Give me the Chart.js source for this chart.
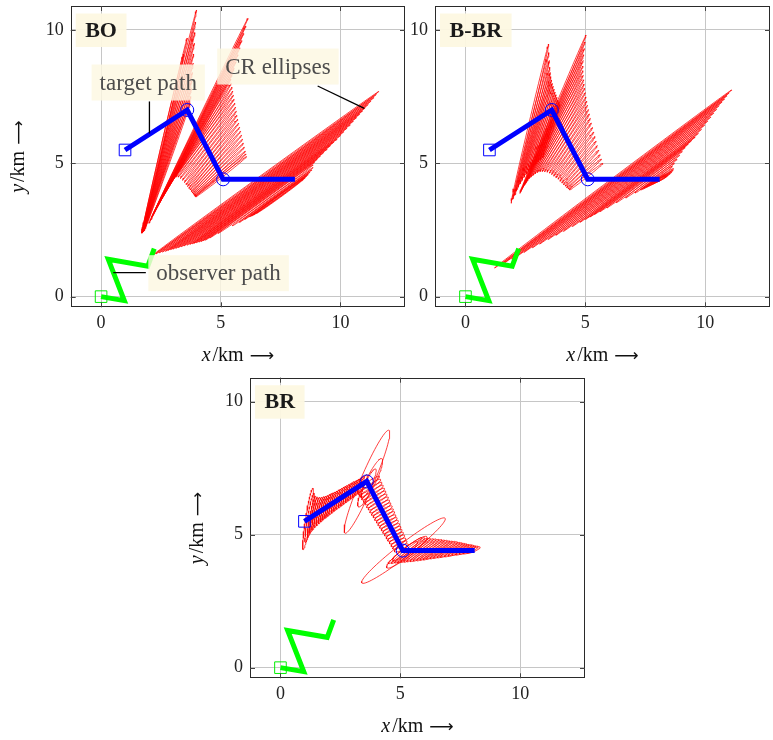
<!DOCTYPE html>
<html>
<head>
<meta charset="utf-8">
<script src="https://cdn.jsdelivr.net/npm/chart.js@4.4.1/dist/chart.umd.min.js"></script>
<style>
  html, body { margin: 0; padding: 0; background: #ffffff; }
  body { width: 773px; height: 740px; position: relative; overflow: hidden; }
  canvas { position: absolute; }
</style>
</head>
<body>
<canvas id="c1" width="410" height="370" style="left:0px;top:0px"></canvas>
<canvas id="c2" width="368" height="370" style="left:405px;top:0px"></canvas>
<canvas id="c3" width="420" height="370" style="left:180px;top:370px"></canvas>
<script>
// ---------------- data (km) ----------------
const xTicks = [0, 5, 10];
const yTicks = [0, 5, 10];
const panelNames = ['BO', 'B-BR', 'BR'];

// target path: start, two manoeuvre points, end
const targetX = [1.0, 3.6, 5.1, 8.1];
const targetY = [5.5, 7.0, 4.4, 4.4];
// observer path
const observerX = [0.0, 0.97, 0.3, 1.95, 2.22];
const observerY = [0.0, -0.15, 1.4, 1.14, 1.8];

// BO: CR ellipses given by the two tips of the major axis [x1, y1, x2, y2]
const boLeg1 = [
  [1.70,2.38,3.99,10.75],[1.70,2.38,3.60,9.70],[1.70,2.38,3.45,9.10],[1.71,2.39,3.95,10.30],
  [1.72,2.40,3.92,9.90],[1.73,2.41,3.90,9.50],[1.74,2.42,3.87,9.10],[1.75,2.43,3.85,8.75],
  [1.76,2.44,3.82,8.40],[1.77,2.45,3.80,8.10],[1.78,2.46,3.78,7.80],[1.79,2.47,3.75,7.50],
  [1.80,2.48,3.72,7.25]
];
const boLeg2 = [
  [2.00,2.75,6.14,10.44],[2.05,2.85,6.05,10.15],[2.10,2.95,5.96,9.87],[2.16,3.06,5.88,9.60],
  [2.23,3.18,5.80,9.33],[2.30,3.30,5.72,9.07],[2.38,3.43,5.64,8.81],[2.46,3.56,5.56,8.56],
  [2.55,3.70,5.48,8.33],[2.64,3.85,5.42,8.15],[2.73,4.00,5.44,8.00],[2.82,4.15,5.47,7.85],
  [2.92,4.30,5.50,7.70],[3.02,4.42,5.53,7.55],[3.12,4.48,5.56,7.40],[3.22,4.48,5.59,7.25],
  [3.31,4.43,5.62,7.10],[3.40,4.36,5.65,6.95],[3.48,4.28,5.68,6.80],[3.55,4.20,5.71,6.65],
  [3.61,4.13,5.75,6.50],[3.67,4.06,5.79,6.35],[3.72,4.00,5.83,6.20],[3.77,3.94,5.87,6.05],
  [3.81,3.89,5.91,5.90],[3.85,3.85,5.95,5.75],[3.88,3.81,5.99,5.60],[3.91,3.78,6.03,5.45],
  [3.93,3.76,6.06,5.35],[3.95,3.74,6.08,5.25]
];
const boLeg3 = [
  [2.18,1.57,11.60,7.69],[2.29,1.60,11.50,7.58],[2.43,1.64,11.40,7.46],[2.56,1.67,11.28,7.33],
  [2.69,1.70,11.16,7.20],[2.79,1.73,11.04,7.08],[2.90,1.76,10.92,6.96],[3.00,1.78,10.80,6.84],
  [3.12,1.81,10.67,6.71],[3.23,1.84,10.54,6.58],[3.35,1.87,10.41,6.45],[3.46,1.90,10.28,6.32],
  [3.59,1.93,10.14,6.18],[3.71,1.96,10.00,6.04],[3.81,1.98,9.86,5.91],[3.88,2.00,9.72,5.79],
  [3.98,2.02,9.58,5.66],[4.08,2.05,9.44,5.53],[4.18,2.07,9.30,5.40],[4.27,2.10,9.16,5.27],
  [4.36,2.12,9.03,5.15],[4.54,2.20,8.92,5.04],[4.89,2.37,8.86,4.94],[5.48,2.65,8.86,4.84],
  [5.78,2.79,8.80,4.75],[6.00,2.90,8.72,4.66],[6.20,2.99,8.65,4.58],[6.29,3.03,8.58,4.52],
  [6.37,3.07,8.51,4.46],[6.50,3.13,8.45,4.40]
];

// B-BR: tips [x1, y1, x2, y2]
const bbrLeg1 = [
  [1.90,3.50,3.47,9.47],[1.97,3.65,3.48,9.15],[2.05,3.80,3.50,8.85],[2.12,3.95,3.52,8.60],
  [2.20,4.10,3.54,8.40],[2.28,4.23,3.56,8.25],[2.36,4.36,3.59,8.12],[2.45,4.48,3.62,8.00],
  [2.54,4.59,3.66,7.89],[2.63,4.69,3.70,7.78],[2.72,4.78,3.74,7.67],[2.82,4.87,3.78,7.57],
  [2.92,4.96,3.82,7.47],[3.02,5.05,3.86,7.37],[3.12,5.13,3.90,7.28],[3.22,5.21,3.94,7.20]
];
const bbrLeg2 = [
  [2.27,3.88,5.03,9.81],[2.31,3.95,4.99,9.55],[2.36,4.03,4.96,9.30],[2.41,4.11,4.93,9.07],
  [2.46,4.19,4.91,8.85],[2.52,4.27,4.90,8.65],[2.58,4.35,4.90,8.47],[2.65,4.42,4.91,8.30],
  [2.73,4.49,4.93,8.13],[2.82,4.55,4.95,7.97],[2.91,4.61,4.97,7.81],[3.00,4.65,5.00,7.65],
  [3.10,4.68,5.03,7.49],[3.20,4.69,5.06,7.33],[3.30,4.69,5.09,7.17],[3.40,4.67,5.13,7.01],
  [3.50,4.63,5.17,6.85],[3.59,4.58,5.21,6.68],[3.68,4.52,5.25,6.51],[3.77,4.46,5.30,6.34],
  [3.86,4.40,5.35,6.17],[3.94,4.33,5.40,6.00],[4.02,4.26,5.45,5.83],[4.09,4.20,5.50,5.66],
  [4.16,4.14,5.56,5.49],[4.22,4.09,5.62,5.32],[4.28,4.04,5.67,5.16],[4.33,4.00,5.73,5.00]
];
const bbrLeg3 = [
  [1.21,1.07,11.10,7.75],[1.43,1.17,11.00,7.64],[1.65,1.28,10.90,7.53],[1.92,1.41,10.80,7.41],
  [2.16,1.52,10.69,7.29],[2.44,1.66,10.58,7.16],[2.79,1.83,10.47,7.02],[3.09,1.97,10.35,6.88],
  [3.44,2.14,10.23,6.73],[3.77,2.30,10.10,6.58],[4.09,2.45,9.97,6.43],[4.46,2.63,9.84,6.27],
  [4.78,2.79,9.71,6.12],[5.01,2.90,9.57,5.98],[5.20,2.99,9.43,5.85],[5.38,3.08,9.29,5.72],
  [5.60,3.18,9.16,5.59],[5.90,3.33,9.04,5.45],[6.29,3.52,8.93,5.30],[6.68,3.70,8.82,5.15],
  [7.07,3.89,8.71,5.00],[7.38,4.04,8.62,4.88],[7.30,4.00,8.68,4.80],[7.45,4.07,8.66,4.74],
  [7.55,4.12,8.60,4.68],[7.65,4.17,8.53,4.62],[7.75,4.22,8.45,4.56],[7.85,4.27,8.38,4.52]
];

// BR: ellipses [cx, cy, semi-major, semi-minor, angle deg]
const brLeg1 = [
  [1.15,5.59,1.17,0.10,80],[1.22,5.63,0.95,0.09,79],[1.30,5.67,0.80,0.08,78],[1.39,5.73,0.70,0.08,77],
  [1.48,5.78,0.64,0.08,76],[1.57,5.83,0.60,0.08,75],[1.66,5.88,0.57,0.08,74],[1.75,5.93,0.54,0.08,74],
  [1.84,5.98,0.52,0.08,73],[1.93,6.04,0.51,0.08,72],[2.02,6.09,0.50,0.08,72],[2.11,6.14,0.49,0.08,71],
  [2.20,6.19,0.48,0.08,70],[2.30,6.25,0.47,0.08,70],[2.40,6.31,0.46,0.08,69],[2.50,6.37,0.46,0.08,68],
  [2.60,6.42,0.45,0.08,68],[2.70,6.48,0.44,0.08,67],[2.80,6.54,0.44,0.08,66],[2.90,6.60,0.43,0.08,66],
  [3.00,6.65,0.42,0.08,65],[3.10,6.71,0.42,0.08,64],[3.20,6.77,0.41,0.08,64],[3.30,6.83,0.40,0.08,63],
  [3.42,6.90,0.40,0.08,62]
];
const brTurn1 = [[3.61,6.99,2.14,0.28,64.6],[3.74,6.95,1.03,0.20,61.6],[3.68,6.92,0.62,0.13,62]];
const brLeg2 = [
  [3.66,6.90,0.55,0.08,32],[3.72,6.79,0.54,0.08,32],[3.78,6.69,0.53,0.08,31],[3.84,6.58,0.52,0.08,31],
  [3.90,6.48,0.51,0.08,30],[3.96,6.38,0.50,0.08,30],[4.02,6.27,0.49,0.08,30],[4.08,6.17,0.48,0.08,29],
  [4.14,6.06,0.47,0.08,29],[4.20,5.96,0.46,0.08,29],[4.26,5.86,0.45,0.08,28],[4.32,5.75,0.44,0.08,28],
  [4.38,5.65,0.43,0.08,28],[4.44,5.54,0.42,0.08,27],[4.50,5.44,0.41,0.08,27],[4.56,5.34,0.40,0.08,27],
  [4.62,5.23,0.39,0.08,26],[4.68,5.13,0.38,0.08,26],[4.74,5.02,0.37,0.08,26],[4.80,4.92,0.36,0.08,25],
  [4.86,4.82,0.35,0.08,25],[4.92,4.71,0.34,0.08,25],[4.98,4.61,0.33,0.08,25],[5.04,4.50,0.32,0.08,25]
];
const brTurn2 = [[5.13,4.40,2.12,0.26,34.9],[5.27,4.34,1.02,0.18,34.6],[5.20,4.38,0.62,0.12,34]];
const brLeg3 = [
  [5.20,4.40,0.85,0.08,35],[5.32,4.40,0.84,0.08,35],[5.45,4.40,0.83,0.08,34],[5.57,4.40,0.82,0.08,34],
  [5.70,4.40,0.81,0.08,33],[5.82,4.40,0.80,0.08,33],[5.94,4.40,0.79,0.08,32],[6.07,4.40,0.78,0.08,32],
  [6.19,4.40,0.76,0.08,31],[6.32,4.40,0.74,0.08,31],[6.44,4.40,0.72,0.08,30],[6.56,4.40,0.70,0.08,30],
  [6.69,4.41,0.68,0.08,29],[6.81,4.41,0.65,0.08,29],[6.94,4.41,0.62,0.08,28],[7.06,4.41,0.59,0.08,28],
  [7.18,4.41,0.56,0.08,27],[7.31,4.41,0.52,0.08,27],[7.43,4.41,0.48,0.08,26],[7.56,4.42,0.45,0.08,25],
  [7.68,4.42,0.41,0.08,25],[7.80,4.42,0.37,0.07,24],[7.93,4.42,0.34,0.07,23],[8.05,4.42,0.30,0.06,22]
];
const needleHalfWidth = 0.04;

// BO annotations (data units)
const noteTexts = ['target path', 'CR ellipses', 'observer path'];
const noteX = [1.97, 7.39, 4.91];
const noteY = [8.03, 8.63, 0.88];
const notePointers = [[2.02,7.32,2.02,6.12],[9.05,7.90,11.0,7.06],[0.51,0.90,1.87,0.90]];

// ---------------- helpers ----------------
function fromTips(t, b) {
  const [x1, y1, x2, y2] = t;
  return [(x1 + x2) / 2, (y1 + y2) / 2, Math.hypot(x2 - x1, y2 - y1) / 2, b,
          Math.atan2(y2 - y1, x2 - x1) * 180 / Math.PI];
}
function ellipsePoints(e) {
  const [cx, cy, a, b, deg] = e;
  const th = deg * Math.PI / 180, c = Math.cos(th), s = Math.sin(th);
  const pts = [];
  const n = 72;
  for (let i = 0; i <= n; i++) {
    const t = i / n * 2 * Math.PI;
    const u = a * Math.cos(t), v = b * Math.sin(t);
    pts.push({ x: cx + u * c - v * s, y: cy + u * s + v * c });
  }
  return pts;
}
function ellipseSets(list) {
  return list.map(e => ({
    data: ellipsePoints(e), showLine: true, borderColor: '#ff0000', borderWidth: 0.75,
    pointRadius: 0, pointHoverRadius: 0, fill: false, tension: 0, order: 5
  }));
}
function pathSets() {
  const tgt = targetX.map((x, i) => ({ x, y: targetY[i] }));
  const obs = observerX.map((x, i) => ({ x, y: observerY[i] }));
  return [
    { data: [tgt[0]], pointStyle: 'rect', pointRadius: 8.2, borderColor: '#0000ff', borderWidth: 1,
      backgroundColor: 'rgba(0,0,0,0)', showLine: false, order: 0 },
    { data: [tgt[1], tgt[2]], pointStyle: 'circle', pointRadius: 6.5, borderColor: '#0000ff', borderWidth: 1,
      backgroundColor: 'rgba(0,0,0,0)', showLine: false, order: 0 },
    { data: [obs[0]], pointStyle: 'rect', pointRadius: 8.2, borderColor: '#00ee00', borderWidth: 1,
      backgroundColor: 'rgba(0,0,0,0)', showLine: false, order: 0 },
    { data: tgt, showLine: true, borderColor: '#0000ff', borderWidth: 5, pointRadius: 0, tension: 0, order: 1 },
    { data: obs, showLine: true, borderColor: '#00ff00', borderWidth: 5, pointRadius: 0, tension: 0, order: 2 }
  ];
}

const SERIF = '"Liberation Serif", "Times New Roman", serif';

function drawAxisTitle(ctx, cx, cy, rotate, letter) {
  ctx.save();
  ctx.translate(cx, cy);
  if (rotate) ctx.rotate(-Math.PI / 2);
  ctx.fillStyle = '#111';
  ctx.textBaseline = 'middle';
  ctx.textAlign = 'left';
  const fLetter = 'italic 20px ' + SERIF, fUnit = '20px ' + SERIF, fArrow = '17px "DejaVu Sans"';
  const unit = '/km', arrow = '\u27F6';
  ctx.font = fLetter; const w1 = ctx.measureText(letter).width + 2;
  ctx.font = fUnit; const w2 = ctx.measureText(unit).width + 6;
  ctx.font = fArrow; const w3 = ctx.measureText(arrow).width;
  const x0 = -(w1 + w2 + w3) / 2;
  ctx.font = fLetter; ctx.fillText(letter, x0, 0);
  ctx.font = fUnit; ctx.fillText(unit, x0 + w1, 0);
  ctx.font = fArrow; ctx.fillText(arrow, x0 + w1 + w2, 1);
  ctx.restore();
}

function overlay(cfg) {
  return {
    id: 'overlay' + cfg.name,
    afterDatasetsDraw(chart) {
      const { ctx, chartArea: a, scales: { x, y } } = chart;
      ctx.save();
      // annotations
      if (cfg.notes) {
        ctx.font = '23px ' + SERIF;
        noteTexts.forEach((t, i) => {
          const px = x.getPixelForValue(noteX[i]), py = y.getPixelForValue(noteY[i]);
          const w = ctx.measureText(t).width + 16, h = 36;
          ctx.fillStyle = 'rgba(253,248,226,0.82)';
          ctx.fillRect(px - w / 2, py - h / 2, w, h);
          ctx.fillStyle = '#4d4d4d';
          ctx.textAlign = 'center'; ctx.textBaseline = 'middle';
          ctx.fillText(t, px, py + 1);
        });
        ctx.strokeStyle = '#000'; ctx.lineWidth = 1.3;
        notePointers.forEach(p => {
          ctx.beginPath();
          ctx.moveTo(x.getPixelForValue(p[0]), y.getPixelForValue(p[1]));
          ctx.lineTo(x.getPixelForValue(p[2]), y.getPixelForValue(p[3]));
          ctx.stroke();
        });
      }
      // panel label
      ctx.font = 'bold 22px ' + SERIF;
      const lw = ctx.measureText(cfg.name).width + 19;
      ctx.fillStyle = 'rgba(253,248,226,0.95)';
      ctx.fillRect(a.left + 5, a.top + 7.5, lw, 33.5);
      ctx.fillStyle = '#1a1a1a';
      ctx.textAlign = 'left'; ctx.textBaseline = 'middle';
      ctx.fillText(cfg.name, a.left + 5 + 9.5, a.top + 7.5 + 17.5);
      // frame
      ctx.strokeStyle = '#2a2a2a'; ctx.lineWidth = 1;
      ctx.strokeRect(Math.round(a.left) + 0.5, Math.round(a.top) + 0.5,
                     Math.round(a.right) - Math.round(a.left) - 1, Math.round(a.bottom) - Math.round(a.top) - 1);
      // inward tick marks on all sides
      ctx.strokeStyle = '#444'; ctx.lineWidth = 1;
      xTicks.forEach(v => {
        const px = Math.round(x.getPixelForValue(v)) + 0.5;
        ctx.beginPath();
        ctx.moveTo(px, a.bottom); ctx.lineTo(px, a.bottom - 5);
        ctx.moveTo(px, a.top); ctx.lineTo(px, a.top + 5);
        ctx.stroke();
      });
      yTicks.forEach(v => {
        const py = Math.round(y.getPixelForValue(v)) + 0.5;
        ctx.beginPath();
        ctx.moveTo(a.left, py); ctx.lineTo(a.left + 5, py);
        ctx.moveTo(a.right, py); ctx.lineTo(a.right - 5, py);
        ctx.stroke();
      });
      // axis titles
      drawAxisTitle(ctx, (a.left + a.right) / 2, a.bottom + 48, false, 'x');
      if (cfg.yTitle) drawAxisTitle(ctx, a.left - 52, (a.top + a.bottom) / 2, true, 'y');
      ctx.restore();
    }
  };
}

function makeChart(id, cfg, ellipses) {
  const zeroPad = s => { s.paddingLeft = 0; s.paddingRight = 0; s.paddingTop = 0; s.paddingBottom = 0; };
  const tickFont = { family: SERIF, size: 18 };
  return new Chart(document.getElementById(id), {
    type: 'scatter',
    data: { datasets: pathSets().concat(ellipseSets(ellipses)) },
    options: {
      responsive: false, animation: false, devicePixelRatio: 1,
      layout: { padding: cfg.pad, autoPadding: false },
      plugins: { legend: { display: false }, tooltip: { enabled: false } },
      events: [],
      scales: {
        x: {
          type: 'linear', min: -1.27, max: 12.7,
          afterBuildTicks: s => { s.ticks = xTicks.map(v => ({ value: v })); },
          afterFit: s => { s.height = 45; zeroPad(s); },
          grid: { color: '#c6c6c6', lineWidth: 1, drawTicks: false },
          border: { display: false },
          ticks: { padding: 5, font: tickFont, color: '#222', maxRotation: 0, autoSkip: false }
        },
        y: {
          type: 'linear', min: -0.4, max: 10.9,
          afterBuildTicks: s => { s.ticks = yTicks.map(v => ({ value: v })); },
          afterFit: s => { s.width = cfg.yw; zeroPad(s); },
          grid: { color: '#c6c6c6', lineWidth: 1, drawTicks: false },
          border: { display: false },
          ticks: { padding: 7, font: tickFont, color: '#222', autoSkip: false }
        }
      }
    },
    plugins: [overlay(cfg)]
  });
}

const boEllipses = [].concat(boLeg1, boLeg2, boLeg3).map(t => fromTips(t, needleHalfWidth));
const bbrEllipses = [].concat(bbrLeg1, bbrLeg2, bbrLeg3).map(t => fromTips(t, needleHalfWidth));
const brEllipses = [].concat(brLeg1, brTurn1, brLeg2, brTurn2, brLeg3);

makeChart('c1', { name: panelNames[0], pad: { left: 0, top: 6, right: 5, bottom: 17.7 }, yw: 70.7, yTitle: true, notes: true }, boEllipses);
makeChart('c2', { name: panelNames[1], pad: { left: 0, top: 6, right: 3, bottom: 17.7 }, yw: 30, yTitle: false, notes: false }, bbrEllipses);
makeChart('c3', { name: panelNames[2], pad: { left: 0, top: 7.7, right: 15, bottom: 16.7 }, yw: 70, yTitle: true, notes: false }, brEllipses);
</script>
</body>
</html>
